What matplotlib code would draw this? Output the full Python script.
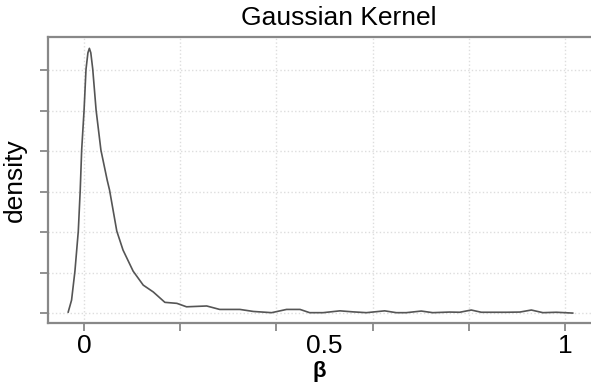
import matplotlib
matplotlib.use("Agg")
import matplotlib.pyplot as plt

plt.rcParams['font.family'] = ['Liberation Sans', 'DejaVu Sans']

# density curve
beta = [-0.033, -0.026, -0.019, -0.012, -0.008, -0.005, 0.0, 0.004, 0.008, 0.011,
        0.014, 0.018, 0.025, 0.035, 0.048, 0.053, 0.068, 0.081, 0.102, 0.123, 0.144,
        0.168, 0.193, 0.213, 0.255, 0.282, 0.324, 0.352, 0.390, 0.421, 0.449,
        0.469, 0.497, 0.532, 0.559, 0.587, 0.625, 0.649, 0.670, 0.701, 0.725,
        0.760, 0.781, 0.805, 0.826, 0.878, 0.906, 0.930, 0.954, 0.982, 1.016]
density = [0.05, 0.64, 2.07, 4.05, 6.07, 8.05, 10.02, 12.03, 12.85, 13.07,
           12.85, 12.05, 10.02, 8.05, 6.57, 6.07, 4.05, 3.11, 2.07, 1.38, 1.04,
           0.53, 0.48, 0.31, 0.35, 0.18, 0.18, 0.08, 0.02, 0.18, 0.18,
           0.02, 0.02, 0.11, 0.06, 0.02, 0.11, 0.02, 0.02, 0.10, 0.02,
           0.05, 0.04, 0.15, 0.04, 0.04, 0.05, 0.15, 0.02, 0.04, 0.0]

x_ticks = [0, 0.2, 0.4, 0.6, 0.8, 1.0]
x_labels = [0, 0.5, 1]
x_label_text = ['0', '0.5', '1']
y_ticks = [0, 2, 4, 6, 8, 10, 12]

fig = plt.figure(figsize=(5.91, 3.91), dpi=100)
ax = fig.add_axes([48 / 591, 68 / 391, 1 - 48 / 591, 286 / 391])

ax.plot(beta, density, color='#555555', lw=1.2)

ax.set_xlim(-0.075, 1.054)
ax.set_ylim(-0.49, 13.63)

# tick marks every 0.2, labels only at 0, 0.5, 1
ax.xaxis.remove_overlapping_locs = False
ax.set_xticks(x_ticks)
ax.set_xticklabels([])
ax.set_xticks(x_labels, minor=True)
ax.set_xticklabels(x_label_text, minor=True)
ax.tick_params(axis='x', which='major', length=6, width=1.3, color='#888888')
ax.tick_params(axis='x', which='minor', length=0, pad=8, labelsize=19)

ax.set_yticks(y_ticks)
ax.set_yticklabels([])
ax.tick_params(axis='y', length=6, width=1.3, color='#888888')

ax.grid(True, which='major', color='#dddddd', linestyle=':', lw=1.0)

for side in ['left', 'top', 'bottom']:
    ax.spines[side].set_color('#888888')
    ax.spines[side].set_linewidth(1.6)
ax.spines['right'].set_visible(False)

ax.set_ylabel('density', fontsize=19, labelpad=6)
ax.set_xlabel('β', fontsize=16, fontweight='bold', labelpad=2)
fig.text(339 / 591, 1 - 18 / 391, 'Gaussian Kernel', fontsize=19,
         ha='center', va='center')

fig.savefig('out.png', dpi=100)
